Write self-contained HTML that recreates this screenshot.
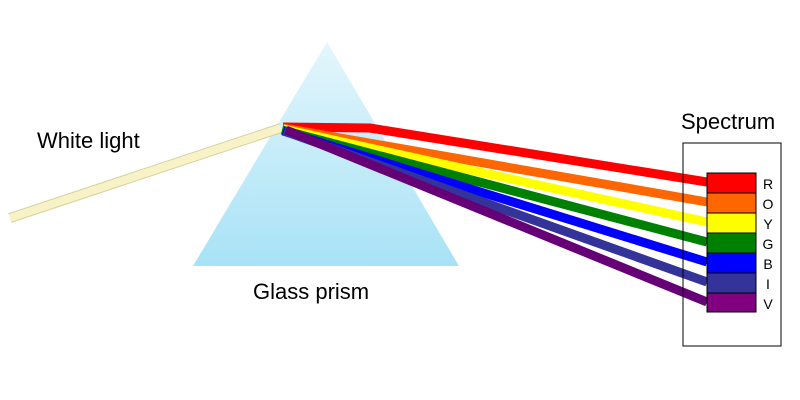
<!DOCTYPE html>
<html><head><style>body{margin:0;background:#fff}</style></head><body>
<svg width="800" height="400" xmlns="http://www.w3.org/2000/svg" style="display:block">
<defs><linearGradient id="g" x1="0" y1="0" x2="0" y2="1"><stop offset="0" stop-color="#e4f6fc"/><stop offset="1" stop-color="#a8e2f6"/></linearGradient></defs>
<polygon points="327,42 193,266 459,266" fill="url(#g)"/>
<line x1="10" y1="218" x2="281" y2="128" stroke="#d8d0a0" stroke-width="10"/>
<line x1="10" y1="218" x2="281" y2="128" stroke="#f7f3c6" stroke-width="8"/>
<g stroke-width="9" fill="none">
<polyline points="283,127 370,128 707,182" stroke="#ff0000"/>
<line x1="283" y1="128" x2="707" y2="202" stroke="#ff6600"/>
<line x1="283" y1="129" x2="707" y2="222" stroke="#ffff00"/>
<line x1="282" y1="130" x2="707" y2="242" stroke="#008000"/>
<line x1="283" y1="131" x2="707" y2="262" stroke="#0000ff"/>
<line x1="284" y1="131" x2="707" y2="282" stroke="#333399"/>
<line x1="286" y1="130" x2="707" y2="302" stroke="#660077"/>
</g>
<rect x="683" y="143" width="98" height="203" fill="none" stroke="#000" stroke-width="1"/>
<g stroke="#000" stroke-width="1">
<rect x="707" y="173" width="49" height="20" fill="#ff0000"/>
<rect x="707" y="193" width="49" height="20" fill="#ff6600"/>
<rect x="707" y="213" width="49" height="20" fill="#ffff00"/>
<rect x="707" y="233" width="49" height="20" fill="#008000"/>
<rect x="707" y="253" width="49" height="20" fill="#0000ff"/>
<rect x="707" y="273" width="49" height="20" fill="#333399"/>
<rect x="707" y="293" width="49" height="19" fill="#800080"/>
</g>
<g font-family="Liberation Sans, sans-serif" font-size="14" fill="#000" text-anchor="middle">
<text x="768" y="189">R</text><text x="768" y="209">O</text><text x="768" y="229">Y</text><text x="768" y="249">G</text><text x="768" y="269">B</text><text x="768" y="289">I</text><text x="768" y="309">V</text>
</g>
<g font-family="Liberation Sans, sans-serif" font-size="22" fill="#000">
<text x="37" y="148">White light</text>
<text x="253" y="299">Glass prism</text>
<text x="681" y="129">Spectrum</text>
</g>
</svg>
</body></html>
